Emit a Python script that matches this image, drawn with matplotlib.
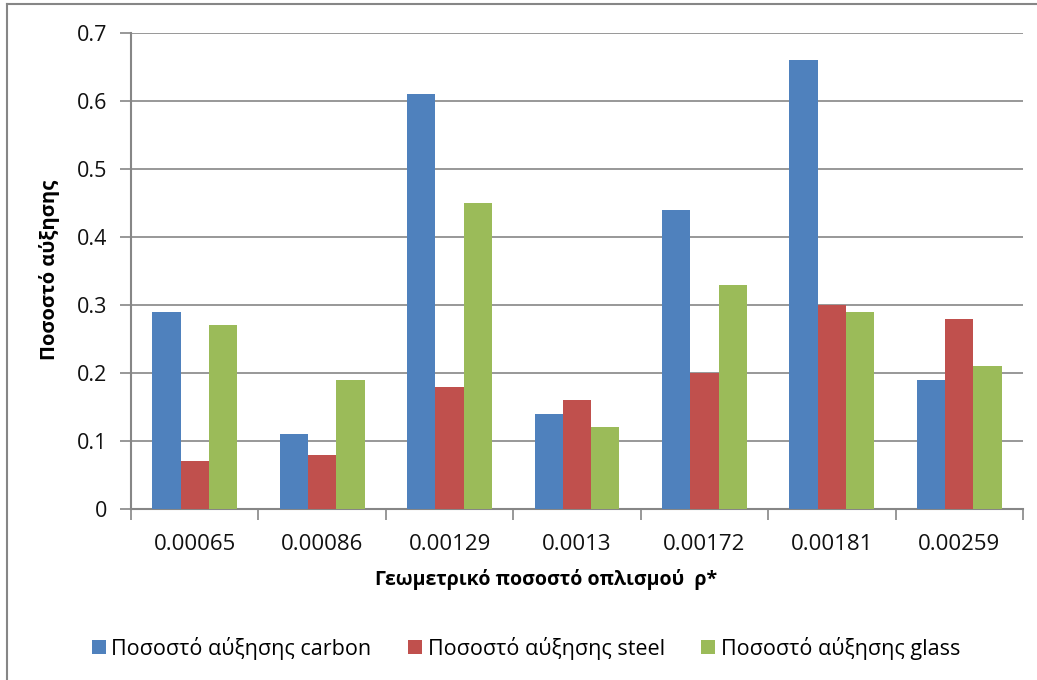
import matplotlib
matplotlib.use("Agg")
import matplotlib.pyplot as plt
from matplotlib.lines import Line2D
import numpy as np

categories = ["0.00065", "0.00086", "0.00129", "0.0013", "0.00172", "0.00181", "0.00259"]
carbon = [0.29, 0.11, 0.61, 0.14, 0.44, 0.66, 0.19]
steel = [0.07, 0.08, 0.18, 0.16, 0.20, 0.30, 0.28]
glass = [0.27, 0.19, 0.45, 0.12, 0.33, 0.29, 0.21]
series_names = ["Ποσοστό αύξησης carbon", "Ποσοστό αύξησης steel", "Ποσοστό αύξησης glass"]
colors = ["#4F81BD", "#C0504D", "#9BBB59"]
y_ticks = [0, 0.1, 0.2, 0.3, 0.4, 0.5, 0.6, 0.7]
y_tick_labels = ["0", "0.1", "0.2", "0.3", "0.4", "0.5", "0.6", "0.7"]

plt.rcParams["font.family"] = ["Open Sans", "DejaVu Sans"]

W, H = 1037, 680
fig = plt.figure(figsize=(W / 100, H / 100), dpi=100)
ax = fig.add_axes([131 / W, 1 - 509 / H, (1023 - 131) / W, (509 - 33) / H])

grey = "#868686"
x = np.arange(len(categories))
bw = 1 / 4.5  # gap width 150%
for i, (vals, name, c) in enumerate(zip([carbon, steel, glass], series_names, colors)):
    ax.bar(x + (i - 1) * bw, vals, width=bw, color=c, label=name, zorder=3)

ax.set_xlim(-0.5, len(categories) - 0.5)
ax.set_ylim(0, 0.7)
ax.set_yticks(y_ticks)
ax.set_yticklabels(y_tick_labels, fontsize=15.5, color="#111111")
ax.yaxis.grid(True, color=grey, linewidth=1.2, zorder=0)
ax.set_axisbelow(True)

# category labels centred, tick marks at category boundaries
ax.set_xticks(x)
ax.set_xticklabels(categories, fontsize=16, color="#111111")
ax.tick_params(axis="x", length=0, pad=18)
ax.set_xticks(np.arange(-0.5, len(categories)), minor=True)
ax.tick_params(axis="x", which="minor", length=8, width=1.2, color=grey)
ax.tick_params(axis="y", length=8, width=1.2, color=grey, pad=9)

for s in ["top", "right"]:
    ax.spines[s].set_visible(False)
for s in ["left", "bottom"]:
    ax.spines[s].set_color(grey)
    ax.spines[s].set_linewidth(1.5)

fig.text(546 / W, 1 - 579 / H, "Γεωμετρικό ποσοστό οπλισμού  ρ*",
         ha="center", va="center", fontsize=14, fontweight="bold")
fig.text(50 / W, 1 - 270 / H, "Ποσοστό αύξησης", rotation=90,
         ha="center", va="center", fontsize=14.5, fontweight="bold")

handles, labels = ax.get_legend_handles_labels()
fig.legend(handles, labels, loc="center", bbox_to_anchor=(526 / W, 1 - 648 / H),
           ncol=3, frameon=False, fontsize=15.5, handlelength=0.65, handleheight=0.65,
           handletextpad=0.25, columnspacing=1.7)

# outer chart frame (left and top edges)
fig.add_artist(Line2D([6.5 / W, 6.5 / W], [0, 1 - 4 / H], transform=fig.transFigure,
                      color=grey, linewidth=1.5))
fig.add_artist(Line2D([6.5 / W, 1], [1 - 4 / H, 1 - 4 / H], transform=fig.transFigure,
                      color=grey, linewidth=1.5))

fig.savefig("out.png", dpi=100)
